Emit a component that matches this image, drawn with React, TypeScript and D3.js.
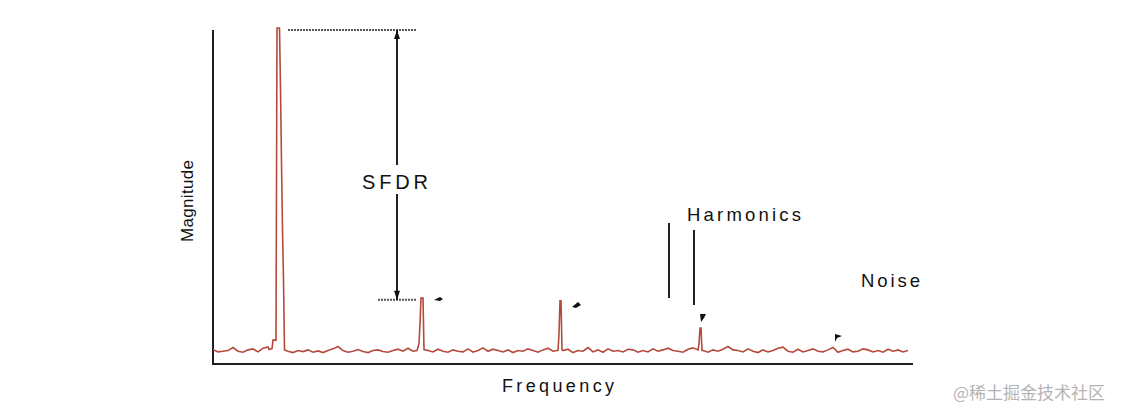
import React from "react";
import * as d3 from "d3";

// ---- data ----
const noiseStep = 5;
const noiseLevels: number[] = [4.3,3.6,3.8,4.0,4.9,3.8,3.5,4.2,4.5,3.6,4.7,5.1,4.3,4.0,4.2,3.8,3.4,4.0,3.7,4.2,3.5,3.9,3.4,4.0,4.5,5.2,4.0,3.5,3.8,4.3,3.7,3.4,4.0,4.2,3.7,3.5,4.0,4.4,3.8,4.7,3.8,4.9,4.5,4.0,3.6,4.4,3.8,3.5,4.2,3.8,3.6,4.5,3.5,4.0,4.8,3.8,4.4,4.0,3.6,4.2,3.4,4.0,3.8,4.5,4.0,3.5,4.2,4.7,3.8,3.6,4.0,4.4,3.4,4.0,3.8,4.9,3.6,4.2,3.5,4.5,3.8,4.0,3.6,4.4,4.2,3.5,4.0,3.6,4.5,3.8,4.2,4.7,4.0,3.8,3.5,4.4,4.8,3.6,4.0,3.5,4.2,3.8,4.4,5.2,4.2,4.0,3.6,4.5,3.8,3.4,4.2,3.6,4.0,4.7,5.0,3.8,3.5,4.4,3.6,4.0,4.5,3.8,3.6,4.2,4.9,3.5,4.0,4.4,3.6,3.8,4.5,4.2,3.6,4.0,3.5,4.4,3.8,4.2,3.6,4.0];

// spikes: [frequency, magnitude]
const fundamental: [number, number][] = [[56,4.3],[59,4.6],[60,7.1],[63,7.1],[64,100],[66.5,100],[67.5,82],[68.5,60],[69.5,40],[70.5,25],[71.5,4.2]];
const harmonic1: [number, number][] = [[204,4.0],[206,6],[207,12],[208,19.6],[210,19.6],[211,4.3]];
const harmonic2: [number, number][] = [[345,4.1],[346,9],[347,18.8],[348,18.8],[349,4.2]];
const harmonic3: [number, number][] = [[485,4.2],[486,6],[487,10.7],[488,10.7],[489,4.0]];
const spikes = [fundamental, harmonic1, harmonic2, harmonic3];

const W = 1130, H = 416;
const x = d3.scaleLinear().domain([0, 700]).range([213, 913]);
const y = d3.scaleLinear().domain([0, 100]).range([364, 28]);

function buildSeries(): [number, number][] {
  const pts: [number, number][] = [];
  noiseLevels.forEach((v, i) => {
    const f = i * noiseStep;
    const inSpike = spikes.some(s => f >= s[0][0] && f <= s[s.length - 1][0]);
    if (!inSpike && f <= 695) pts.push([f, v]);
  });
  spikes.forEach(s => s.forEach(p => pts.push(p)));
  pts.sort((a, b) => a[0] - b[0]);
  return pts;
}

export default function App() {
  const series = buildSeries();
  const line = d3.line<[number, number]>().x(d => x(d[0])).y(d => y(d[1]));
  const font = "'Liberation Sans', Arial, sans-serif";
  const axisColor = "#1e1e1e";
  const sx = x(184); // SFDR arrow x
  return (
    <svg width={W} height={H} style={{ position: "absolute", left: 0, top: 0 }}>
      <rect width={W} height={H} fill="#fff" />
      {/* axes */}
      <line x1={x(0)} y1={30} x2={x(0)} y2={365} stroke={axisColor} strokeWidth={2} />
      <line x1={x(0) - 1} y1={y(0)} x2={x(700)} y2={y(0)} stroke={axisColor} strokeWidth={2} />
      {/* spectrum */}
      <path d={line(series) || ""} fill="none" stroke="#b5493b" strokeWidth={1.6} strokeLinejoin="miter" />
      {/* SFDR reference lines */}
      <line x1={x(75)} x2={x(204)} y1={y(99.4)} y2={y(99.4)} stroke="#555" strokeWidth={2} strokeDasharray="2,1" />
      <line x1={x(165)} x2={x(204)} y1={y(19.1)} y2={y(19.1)} stroke="#555" strokeWidth={2} strokeDasharray="2,1" />
      <line x1={sx} x2={sx} y1={y(99.4)} y2={165} stroke="#222" strokeWidth={2} />
      <line x1={sx} x2={sx} y1={194} y2={y(19.1)} stroke="#222" strokeWidth={2} />
      <path d={`M${sx - 3},${y(99.4) + 9} L${sx},${y(99.4)} L${sx + 3},${y(99.4) + 9} Z`} fill="#111" />
      <path d={`M${sx - 3},${y(19.1) - 9} L${sx},${y(19.1)} L${sx + 3},${y(19.1) - 9} Z`} fill="#111" />
      <text x={362} y={189} fontFamily={font} fontSize={20} textLength={66} lengthAdjust="spacing" fill="#111">SFDR</text>
      {/* harmonics annotation */}
      <line x1={669} x2={669} y1={223} y2={298} stroke="#222" strokeWidth={2} />
      <line x1={694} x2={694} y1={230} y2={305} stroke="#222" strokeWidth={2} />
      <text x={687} y={221} fontFamily={font} fontSize={18.5} textLength={114} lengthAdjust="spacing" fill="#111">Harmonics</text>
      <text x={861} y={287} fontFamily={font} fontSize={18.5} textLength={59} lengthAdjust="spacing" fill="#111">Noise</text>
      {/* small pointer marks */}
      <path d="M434,300 L440,297 L443,299 L440,301 Z" fill="#111" />
      <path d="M572,307 L578,302 L581,305 L576,308 Z" fill="#111" />
      <path d="M700,314 L706,314 L704,318 L701,322 Z" fill="#111" />
      <path d="M835,334 L842,336 L837,338 L835,342 Z" fill="#111" />
      {/* axis titles */}
      <text x={502} y={392} fontFamily={font} fontSize={18} textLength={112} lengthAdjust="spacing" fill="#111">Frequency</text>
      <text transform="translate(193,201) rotate(-90)" textAnchor="middle" fontFamily={font} fontSize={17} textLength={82} lengthAdjust="spacing" fill="#111">Magnitude</text>
      {/* watermark */}
      <text x={953} y={399} fontFamily="'Noto Sans CJK SC', sans-serif" fontSize={17} fill="#b4b4b4">@稀土掘金技术社区</text>
    </svg>
  );
}
